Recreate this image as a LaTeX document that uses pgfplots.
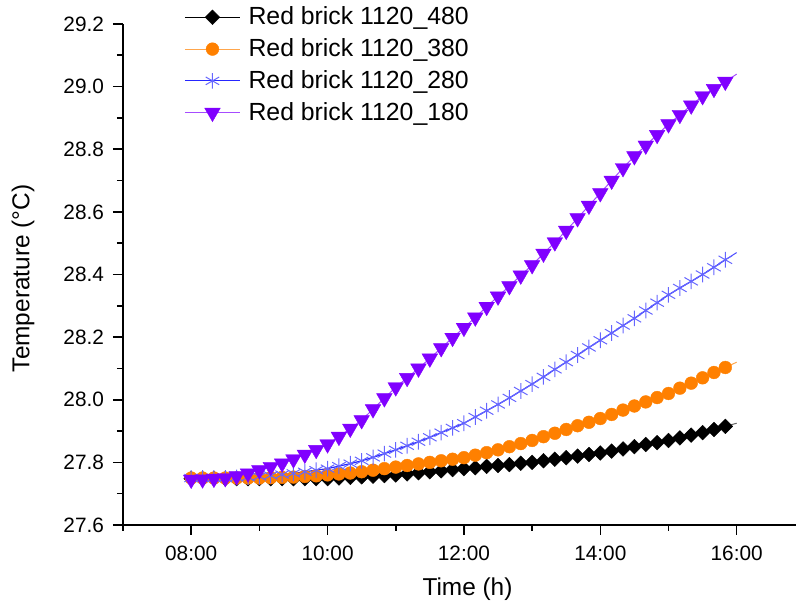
\documentclass[border=0pt]{standalone}
\usepackage{pgfplots}
\pgfplotsset{compat=1.18}
\usepackage{pgfplotstable}
\usepackage{fontspec}
\setmainfont{Liberation Sans}
\definecolor{cBlack}{HTML}{000000}
\definecolor{cOrange}{HTML}{FF8000}
\definecolor{cBlue}{HTML}{0000FF}
\definecolor{cPurple}{HTML}{8000FF}

\pgfplotstableread{
t a b c d
8.0000 27.748 27.750 27.750 27.745
8.1667 27.748 27.750 27.750 27.746
8.3333 27.748 27.750 27.750 27.748
8.5000 27.748 27.750 27.750 27.750
8.6667 27.748 27.750 27.752 27.756
8.8333 27.748 27.750 27.753 27.765
9.0000 27.748 27.750 27.755 27.775
9.1667 27.748 27.751 27.758 27.786
9.3333 27.748 27.752 27.761 27.797
9.5000 27.748 27.753 27.765 27.810
9.6667 27.748 27.755 27.770 27.825
9.8333 27.748 27.757 27.775 27.840
10.0000 27.748 27.760 27.780 27.858
10.1667 27.750 27.763 27.788 27.882
10.3333 27.752 27.766 27.796 27.908
10.5000 27.754 27.770 27.805 27.935
10.6667 27.756 27.775 27.816 27.970
10.8333 27.758 27.780 27.828 28.005
11.0000 27.760 27.785 27.840 28.040
11.1667 27.763 27.790 27.853 28.070
11.3333 27.767 27.795 27.866 28.100
11.5000 27.770 27.800 27.880 28.132
11.6667 27.773 27.805 27.895 28.165
11.8333 27.777 27.810 27.910 28.198
12.0000 27.780 27.815 27.925 28.230
12.1667 27.783 27.823 27.945 28.263
12.3333 27.787 27.831 27.965 28.297
12.5000 27.790 27.840 27.985 28.330
12.6667 27.793 27.850 28.006 28.363
12.8333 27.797 27.860 28.028 28.397
13.0000 27.800 27.870 28.050 28.430
13.1667 27.805 27.882 28.073 28.467
13.3333 27.810 27.893 28.097 28.503
13.5000 27.815 27.905 28.120 28.540
13.6667 27.820 27.917 28.143 28.580
13.8333 27.825 27.928 28.167 28.620
14.0000 27.830 27.940 28.190 28.660
14.1667 27.836 27.953 28.213 28.700
14.3333 27.843 27.967 28.237 28.740
14.5000 27.850 27.980 28.260 28.778
14.6667 27.857 27.993 28.285 28.812
14.8333 27.863 28.007 28.310 28.846
15.0000 27.870 28.020 28.335 28.880
15.1667 27.878 28.037 28.357 28.910
15.3333 27.887 28.053 28.378 28.940
15.5000 27.895 28.070 28.400 28.970
15.6667 27.905 28.087 28.423 28.993
15.8333 27.915 28.103 28.447 29.016
}\datamain

\pgfplotstableread{
t a b c d
15.8333 27.915 28.103 28.447 29.016
16.0000 27.925 28.120 28.470 29.040
}\datatail

\begin{document}
\begin{tikzpicture}
\begin{axis}[
  scale only axis,
  width=336.5pt, height=250.5pt,
  xmin=7, xmax=16.87,
  ymin=27.6, ymax=29.2,
  axis lines*=left,
  axis line style={line width=0.8pt},
  every tick/.style={line width=0.8pt, black},
  tick align=outside,
  major tick length=5pt,
  minor tick length=3pt,
  xtick={8,10,12,14,16},
  xticklabels={08:00,10:00,12:00,14:00,16:00},
  minor xtick={7,9,11,13,15},
  ytick={27.6,27.8,28.0,28.2,28.4,28.6,28.8,29.0,29.2},
  minor ytick={27.7,27.9,28.1,28.3,28.5,28.7,28.9,29.1},
  yticklabel style={/pgf/number format/.cd, fixed, fixed zerofill, precision=1, /tikz/.cd, xshift=-1pt},
  /pgf/number format/assume math mode=true,
  tick label style={font=\fontsize{10.4}{12}\selectfont},
  xticklabel style={yshift=-2pt},
  xlabel={Time (h)},
  ylabel={Temperature (°C)},
  label style={font=\fontsize{12.2}{14}\selectfont},
  xlabel style={at={(axis description cs:0.5,0)}, anchor=center, inner sep=0pt, yshift=-32pt, xshift=4pt},
  ylabel style={at={(axis description cs:0,0.5)}, anchor=center, inner sep=0pt, yshift=50pt, xshift=-2pt},
  legend style={draw=none, fill=none, at={(axis description cs:0.0906,1.039)}, anchor=north west,
    font=\fontsize{12.4}{14}\selectfont, row sep=3.4pt, inner sep=0pt,
    nodes={inner sep=1pt},
    /tikz/every odd column/.append style={column sep=3pt}},
  legend cell align=left,
  legend image code/.code={
    \draw[mark repeat=2,mark phase=2] plot coordinates {(0pt,0pt) (13.75pt,0pt) (27.5pt,0pt)};
  },
]
\addplot[color=cBlack, line width=0.5pt, mark=square*, mark size=2.6pt,
  mark options={rotate=45, fill=black, draw=black, line width=0.2pt}] table[x=t,y=a] {\datamain};
\addlegendentry{Red brick 1120\_480}
\addplot[color=cOrange!70, line width=0.5pt, mark=*, mark size=3.2pt,
  mark options={fill=cOrange, draw=cOrange, line width=0.2pt}] table[x=t,y=b] {\datamain};
\addlegendentry{Red brick 1120\_380}
\addplot[color=cBlue!85, line width=0.6pt, mark=asterisk, mark size=3.9pt,
  mark options={draw=cBlue!60, line width=0.5pt}] table[x=t,y=c] {\datamain};
\addlegendentry{Red brick 1120\_280}
\addplot[color=cPurple!70, line width=0.5pt, mark=triangle*, mark size=4.5pt,
  mark options={rotate=180, fill=cPurple, draw=cPurple, line width=0.2pt}] table[x=t,y=d] {\datamain};
\addlegendentry{Red brick 1120\_180}
\addplot[forget plot, color=cBlack!60, line width=0.5pt, no marks] table[x=t,y=a] {\datatail};
\addplot[forget plot, color=cOrange!70, line width=0.5pt, no marks] table[x=t,y=b] {\datatail};
\addplot[forget plot, color=cBlue!70, line width=0.5pt, no marks] table[x=t,y=c] {\datatail};
\addplot[forget plot, color=cPurple!70, line width=0.5pt, no marks] table[x=t,y=d] {\datatail};
\end{axis}
\path (current axis.south west) ++(-61.5pt,-38.5pt) coordinate (bbl);
\path (current axis.north east) ++(0pt,12pt) coordinate (btr);
\pgfresetboundingbox
\useasboundingbox (bbl) rectangle (btr);
\end{tikzpicture}
\end{document}
